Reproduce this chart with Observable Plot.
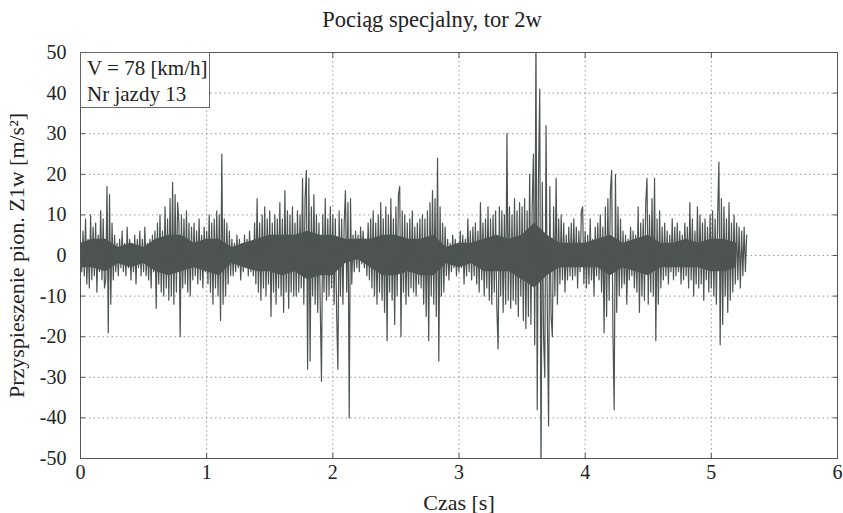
<!DOCTYPE html>
<html><head><meta charset="utf-8">
<script src="https://cdn.jsdelivr.net/npm/d3@7"></script>
<script src="https://cdn.jsdelivr.net/npm/@observablehq/plot@0.6"></script>
<style>
body{margin:0;background:#fff;font-family:"Liberation Serif",serif;}
#wrap{position:relative;width:843px;height:513px;overflow:hidden;}
#title{height:38px;line-height:40px;font-size:22.5px;color:#222;text-align:center;padding-left:21px;box-sizing:border-box;width:843px;}
#legend{position:absolute;left:80px;top:52px;width:130px;height:56px;box-sizing:border-box;border:1px solid #666;background:#fff;font-size:21px;line-height:26px;padding:2px 0 0 6px;color:#222;white-space:nowrap;}
</style></head>
<body>
<div id="wrap">
<div id="title">Pociąg specjalny, tor 2w</div>
<div id="chart"></div>
<div id="legend">V = 78 [km/h]<br>Nr jazdy 13</div>
</div>
<script>
// sampling of the record
const t0 = 0;
const dt = 0.01;
// vertical acceleration Z1w [m/s^2]
const accel = [
 2,-4,6,-5,9,-7,4,-8,10,-6,
 7,-5,8,-9,5,-4,11,-6,9,-8,
 -6,17,-19,15,-12,8,-6,5,-4,3,
 -5,4,-3,6,-4,3,-5,7,-3,4,
 -6,3,-4,5,-7,4,-3,6,-5,4,
 -4,7,-5,3,-6,4,-8,5,-4,6,
 -13,8,-7,10,-9,6,-10,12,-8,9,
 -11,14,-10,18,-12,15,-9,13,8,-20,
 10,-8,9,-7,11,-9,8,-10,7,-6,
 8,-5,6,-7,9,-6,5,-8,7,-4,
 6,-7,10,-9,8,-12,9,-8,11,-10,
 10,-16,25,-12,9,-10,8,-7,6,-5,
 4,-5,3,-4,5,-3,4,-6,3,-4,
 5,-3,4,-5,6,-4,3,-5,8,-7,
 14,-9,8,-11,10,-8,12,-10,9,-7,
 11,-15,8,-9,10,-12,9,-8,13,-10,
 9,-14,16,-9,11,-13,10,-9,12,-10,
 8,-10,11,-9,10,-8,19,-12,14,21,
 -28,19,-26,12,-10,15,-12,10,-14,8,
 -12,-31,10,-9,14,-11,9,-10,12,-8,
 10,-12,9,-14,-28,11,-10,9,-12,8,
 16,-9,13,-40,14,-7,5,-4,6,-3,
 5,-4,7,-2,6,-3,4,-5,8,-6,
 9,-8,11,-10,8,-12,10,-9,13,-11,
 9,-14,12,-21,10,-9,14,-11,9,-17,
 12,-10,15,17,-20,11,-9,10,-12,8,
 -10,9,-8,11,-9,7,-10,8,-7,9,
 -8,10,-12,9,-15,11,-21,13,-10,16,
 -12,14,-15,24,-26,12,-10,8,-9,7,
 -5,4,-6,3,-4,5,-3,4,-5,3,
 -4,6,-3,5,-7,4,-5,9,-4,6,
 -6,7,-5,8,-7,6,-9,13,-6,8,
 -10,9,-8,12,-11,9,-12,10,-9,11,
 -13,-23,12,-10,11,-14,10,-12,30,-11,
 12,-13,10,-11,14,-12,11,-15,13,-10,
 12,-16,14,-18,11,-15,20,-17,12,25,
 -22,55,-38,20,41,-55,18,-20,-30,32,
 -14,-42,17,-15,-20,12,-10,19,-12,9,
 -7,10,-6,8,-9,5,-6,7,-5,8,
 -6,9,-5,7,-8,6,-4,11,12,-7,
 6,-8,5,-7,9,-6,4,-10,7,-5,
 8,-6,10,-9,7,-19,12,-15,14,-11,
 16,21,-19,-38,20,-14,12,-10,9,-8,
 6,-7,5,-12,4,-6,7,-5,6,-8,
 5,-9,12,-14,8,-10,9,-11,13,19,
 -12,10,-9,14,-10,19,-21,9,-12,11,
 -8,7,-6,8,-5,6,-7,5,-4,9,
 -6,7,-5,8,-4,6,-7,5,-6,8,
 -5,7,-8,13,-6,9,-10,6,-7,12,
 -8,10,-7,8,-11,9,-6,7,-9,10,
 -8,11,-10,9,-12,10,23,-22,14,-17,
 12,-10,9,-14,13,-11,8,-9,10,-7,
 8,-6,7,-8,6,-5,7,-4,5
];
// dense core of the signal (upper / lower edge every 0.1 s)
const coreDt = 0.1;
const coreHi = [3,4,4,2,3,2,4,5,5,3, 4,4,2,3,4,5,5,5,6,5, 5,4,4,4,5,5,4,4,5,2, 3,3,4,5,4,5,8,5,3,3, 3,4,5,3,4,5,3,3,4,3, 4,4,3];
const coreLo = [-3,-3,-4,-2,-3,-2,-4,-5,-4,-3, -4,-5,-2,-3,-4,-4,-5,-4,-6,-5, -5,-2,-1,-3,-5,-5,-4,-5,-5,-2, -3,-2,-4,-4,-4,-6,-8,-5,-3,-3, -3,-3,-5,-3,-4,-5,-3,-3,-3,-3, -4,-4,-3];

const xTicks = [0,1,2,3,4,5,6];
const yTicks = [-50,-40,-30,-20,-10,0,10,20,30,40,50];
const xGrid = [1,2,3,4,5];
const yGrid = [-40,-30,-20,-10,0,10,20,30,40];

const data = accel.map((a, i) => ({t: t0 + i * dt, a}));
const core = coreHi.map((hi, i) => ({t: t0 + i * coreDt, hi, lo: coreLo[i]}));
const fmt = d => String(d);
const blank = () => "";
const ink = "#4d5453";

const chart = Plot.plot({
  width: 843,
  height: 475,
  marginTop: 14,
  marginBottom: 55,
  marginLeft: 80,
  marginRight: 6,
  style: {fontFamily: "Liberation Serif, serif", fontSize: "20px", color: "#222", background: "#fff"},
  x: {domain: [0, 6]},
  y: {domain: [-50, 50]},
  marks: [
    Plot.gridX(xGrid, {stroke: "#999", strokeOpacity: 1, strokeDasharray: "1.5,3"}),
    Plot.gridY(yGrid, {stroke: "#999", strokeOpacity: 1, strokeDasharray: "1.5,3"}),
    Plot.areaY(core, {x: "t", y1: "lo", y2: "hi", fill: ink, curve: "linear"}),
    Plot.lineY(data, {x: "t", y: "a", stroke: ink, strokeWidth: 1.2, clip: true}),
    Plot.frame({stroke: "#555"}),
    Plot.axisX(xTicks, {anchor: "bottom", tickSize: 0, tickPadding: 6, tickFormat: fmt, label: null, fontSize: 20}),
    Plot.axisX({anchor: "bottom", label: "Czas [s]", labelAnchor: "center", labelOffset: 51, labelArrow: "none", ticks: [], fontSize: 22}),
    Plot.axisX(xTicks, {anchor: "bottom", tickSize: 5, dy: -5, tickFormat: blank, label: null, stroke: "#555"}),
    Plot.axisX(xTicks, {anchor: "top", tickSize: 5, dy: 5, tickFormat: blank, label: null, stroke: "#555"}),
    Plot.axisY(yTicks, {anchor: "left", tickSize: 0, tickPadding: 14, tickFormat: fmt, label: null, fontSize: 20}),
    Plot.axisY({anchor: "left", label: "Przyspieszenie pion. Z1w [m/s²]", labelAnchor: "center", labelOffset: 72, labelArrow: "none", ticks: [], fontSize: 22}),
    Plot.axisY(yTicks, {anchor: "left", tickSize: 5, dx: 5, tickFormat: blank, label: null, stroke: "#555"}),
    Plot.axisY(yTicks, {anchor: "right", tickSize: 5, dx: -5, tickFormat: blank, label: null, stroke: "#555"})
  ]
});
document.getElementById("chart").appendChild(chart);
</script>
</body></html>
